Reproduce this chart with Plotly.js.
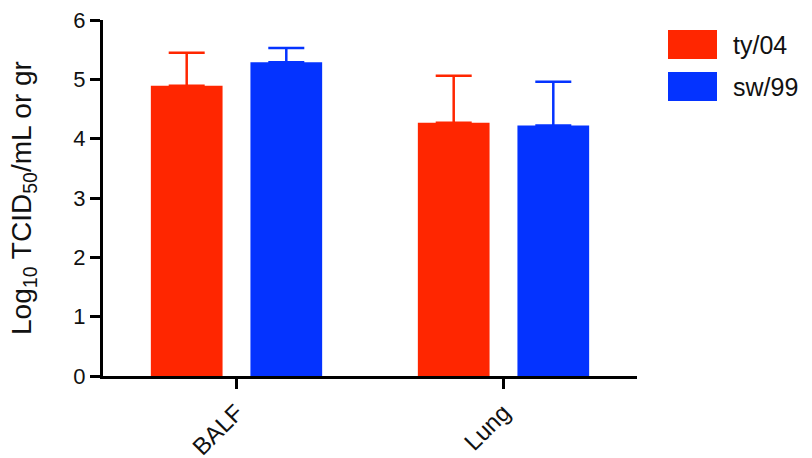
<!DOCTYPE html>
<html>
<head>
<meta charset="utf-8">
<script src="https://cdn.plot.ly/plotly-3.0.1.min.js"></script>
<style>
  html, body { margin: 0; padding: 0; background: #ffffff; }
  #chart { width: 812px; height: 458px; }
</style>
</head>
<body>
<div id="chart"></div>
<script>
// Virus titres (mean + upper SD) per sample type
const categories = ['BALF', 'Lung'];
const seriesNames = ['ty/04', 'sw/99'];
const seriesColors = ['#FF2600', '#0433FF'];
const ty04Mean = [4.89, 4.27];
const ty04Err = [0.56, 0.79];
const sw99Mean = [5.29, 4.22];
const sw99Err = [0.24, 0.74];
const yTickVals = [0, 1, 2, 3, 4, 5, 6];
const yTickText = ['0', '1', '2', '3', '4', '5', '6'];

const W = 812, H = 458;
const M = { l: 103, r: 175, t: 20, b: 82 };
const plotW = W - M.l - M.r, plotH = H - M.t - M.b;
const px2x = (px) => (px - M.l) / plotW;
const px2y = (py) => (H - M.b - py) / plotH;

const FONT = 'Liberation Sans, Arial, Helvetica, sans-serif';

const means = [ty04Mean, sw99Mean];
const errs = [ty04Err, sw99Err];

const traces = seriesNames.map((name, i) => ({
  type: 'bar',
  name: name,
  x: categories,
  y: means[i],
  marker: { color: seriesColors[i], line: { width: 0 } },
  error_y: {
    type: 'data',
    symmetric: false,
    array: errs[i],
    arrayminus: means[i].map(() => 0),
    color: seriesColors[i],
    thickness: 2.5,
    width: 18
  },
  showlegend: false,
  hoverinfo: 'skip'
}));

// Legend: large colour swatches with labels at the right
const shapes = [];
const annotations = [];
const swatchTop = [30, 72];
seriesNames.forEach((name, i) => {
  shapes.push({
    type: 'rect', xref: 'paper', yref: 'paper',
    x0: px2x(668), x1: px2x(717),
    y0: px2y(swatchTop[i] + 29), y1: px2y(swatchTop[i]),
    fillcolor: seriesColors[i], line: { width: 0 }
  });
  annotations.push({
    xref: 'paper', yref: 'paper',
    x: px2x(731), y: px2y(swatchTop[i] + 15),
    xanchor: 'left', yanchor: 'middle',
    text: name, showarrow: false,
    font: { family: FONT, size: 25, color: '#111111' }
  });
});

const layout = {
  width: W, height: H,
  margin: M,
  paper_bgcolor: '#ffffff',
  plot_bgcolor: '#ffffff',
  barmode: 'group',
  bargap: 0.254,
  bargroupgap: 0.28,
  font: { family: FONT, color: '#111111' },
  xaxis: {
    type: 'category',
    range: [-0.5, 1.5],
    showline: true, linecolor: '#000000', linewidth: 3,
    ticks: 'outside', ticklen: 10, tickwidth: 3, tickcolor: '#000000',
    tickangle: -45,
    tickfont: { family: FONT, size: 24, color: '#111111' },
    showgrid: false, zeroline: false,
    automargin: false
  },
  yaxis: {
    range: [0, 6],
    tickvals: yTickVals, ticktext: yTickText,
    showline: true, linecolor: '#000000', linewidth: 3,
    ticks: 'outside', ticklen: 10, tickwidth: 3, tickcolor: '#000000',
    tickfont: { family: FONT, size: 22, color: '#111111' },
    showgrid: false, zeroline: false,
    automargin: false,
    title: {
      text: 'Log<sub>10</sub> TCID<sub>50</sub>/mL or gr',
      font: { family: FONT, size: 28, color: '#111111' },
      standoff: 34
    }
  },
  shapes: shapes,
  annotations: annotations
};

Plotly.newPlot('chart', traces, layout, { displayModeBar: false, staticPlot: true });
</script>
</body>
</html>
